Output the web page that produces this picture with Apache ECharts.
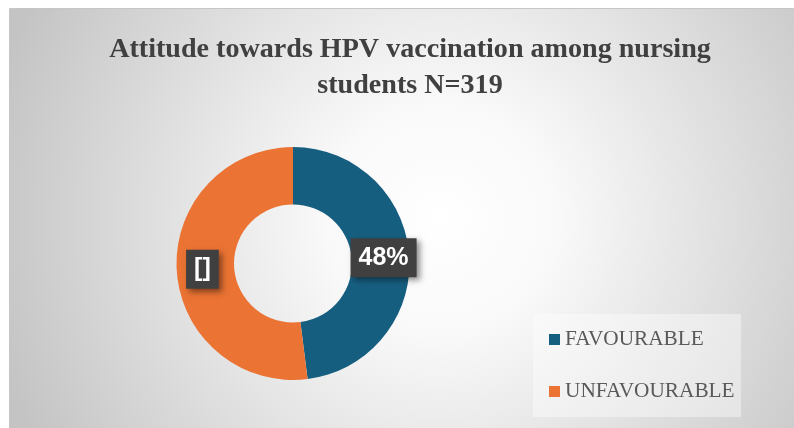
<!DOCTYPE html>
<html>
<head>
<meta charset="utf-8">
<script src="https://cdn.jsdelivr.net/npm/echarts@6/dist/echarts.min.js"></script>
<style>
html,body{margin:0;padding:0;background:#ffffff;}
#chart{width:794px;height:428px;}
</style>
</head>
<body>
<div id="chart"></div>
<script>
var titleText = 'Attitude towards HPV vaccination among nursing\nstudents N=319';
var categories = ['FAVOURABLE', 'UNFAVOURABLE'];
var values = [48, 52];
var labelTexts = ['48%', '[]'];
var colors = ['#165E80', '#EB7333'];

var chart = echarts.init(document.getElementById('chart'), null, {renderer: 'canvas'});

var data = categories.map(function (c, i) {
  return {name: c, value: values[i], itemStyle: {color: colors[i]}};
});

chart.setOption({
  animation: false,
  graphic: [
    {
      type: 'rect', left: 9, top: 8, z: -10,
      shape: {width: 785, height: 420},
      style: {
        fill: new echarts.graphic.RadialGradient(0.55, 0.5, 1.1, [
          {offset: 0, color: '#ffffff'},
          {offset: 0.25, color: '#f9f9f9'},
          {offset: 1, color: '#c4c4c4'}
        ]),
        stroke: '#c6c6c6', lineWidth: 1
      }
    },
    {
      type: 'rect', left: 533, top: 314, z: -5,
      shape: {width: 208, height: 103},
      style: {fill: 'rgba(255,255,255,0.4)'}
    }
  ],
  title: {
    text: titleText,
    left: 405,
    top: 26,
    textAlign: 'center',
    textStyle: {
      fontFamily: 'Liberation Serif',
      fontWeight: 'bold',
      fontSize: 28.1,
      lineHeight: 36.5,
      color: '#404040'
    }
  },
  legend: {
    orient: 'vertical',
    left: 544,
    top: 324,
    itemWidth: 11,
    itemHeight: 11,
    itemGap: 31,
    icon: 'rect',
    data: categories,
    textStyle: {
      fontFamily: 'Liberation Serif',
      fontSize: 21.3,
      color: '#595959'
    }
  },
  series: [{
    type: 'pie',
    center: [293, 263.5],
    radius: [59, 116.5],
    startAngle: 90,
    clockwise: true,
    silent: true,
    data: data,
    label: {
      show: true,
      position: 'inside',
      formatter: function (p) { return labelTexts[p.dataIndex]; },
      fontFamily: 'Liberation Sans',
      fontWeight: 'bold',
      fontSize: 25,
      color: '#ffffff',
      backgroundColor: '#404040',
      padding: [8, 8, 6, 8],
      shadowColor: 'rgba(0,0,0,0.45)',
      shadowBlur: 6,
      shadowOffsetX: 3,
      shadowOffsetY: 3
    },
    labelLine: {show: false},
    emphasis: {disabled: true}
  }]
});
</script>
</body>
</html>
